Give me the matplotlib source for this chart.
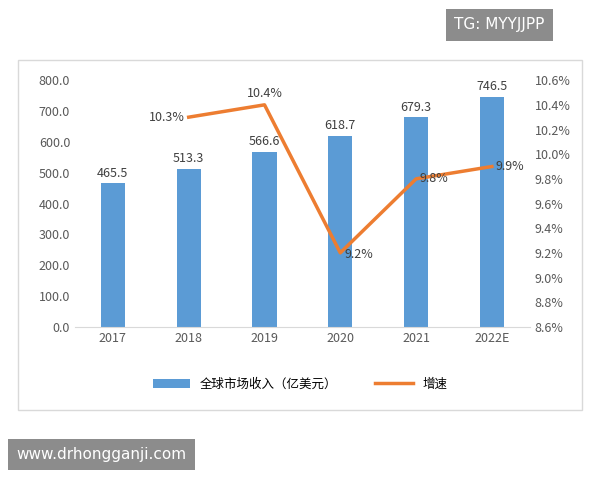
import matplotlib.pyplot as plt
from matplotlib.patches import Rectangle

plt.rcParams['font.family'] = ['Noto Sans CJK SC', 'DejaVu Sans']

years = ["2017", "2018", "2019", "2020", "2021", "2022E"]
revenue = [465.5, 513.3, 566.6, 618.7, 679.3, 746.5]
growth_years = ["2018", "2019", "2020", "2021", "2022E"]
growth = [10.3, 10.4, 9.2, 9.8, 9.9]

blue = "#5B9BD5"
orange = "#ED7D31"

fig = plt.figure(figsize=(6, 4.8), dpi=100)
fig.patches.append(Rectangle((0.03, 0.145), 0.94, 0.73, transform=fig.transFigure,
                             fill=False, edgecolor="#d9d9d9", linewidth=1))
ax = fig.add_axes([0.125, 0.319, 0.758, 0.514])
x = list(range(len(years)))
ax.bar(x, revenue, width=0.32, color=blue, label="全球市场收入（亿美元）")
for xi, v in zip(x, revenue):
    ax.text(xi, v + 12, f"{v:.1f}", ha="center", va="bottom", fontsize=9, color="#404040")
ax.set_ylim(0, 800)
ax.set_yticks(range(0, 801, 100))
ax.set_yticklabels([f"{v:.1f}" for v in range(0, 801, 100)], fontsize=9, color="#595959")
ax.set_xticks(x)
ax.set_xticklabels(years, fontsize=9, color="#595959")
ax.set_xlim(-0.5, len(years) - 0.5)
for s in ["top", "right", "left"]:
    ax.spines[s].set_visible(False)
ax.spines["bottom"].set_color("#d9d9d9")
ax.tick_params(length=0)

ax2 = ax.twinx()
gx = [years.index(y) for y in growth_years]
ax2.plot(gx, growth, color=orange, linewidth=2.5, label="增速")
# label placement per point: (dx, dy, ha, va)
placements = [(-0.05, 0.0, "right", "center"), (0.0, 0.04, "center", "bottom"),
              (0.05, -0.01, "left", "center"), (0.05, 0.0, "left", "center"),
              (0.05, 0.0, "left", "center")]
for xi, v, (dx, dy, ha, va) in zip(gx, growth, placements):
    ax2.text(xi + dx, v + dy, f"{v:.1f}%", ha=ha, va=va, fontsize=9, color="#404040")
ax2.set_ylim(8.6, 10.6)
ticks = [8.6 + 0.2 * i for i in range(11)]
ax2.set_yticks(ticks)
ax2.set_yticklabels([f"{t:.1f}%" for t in ticks], fontsize=9, color="#595959")
for s in ["top", "right", "left", "bottom"]:
    ax2.spines[s].set_visible(False)
ax2.tick_params(length=0)

h1, l1 = ax.get_legend_handles_labels()
h2, l2 = ax2.get_legend_handles_labels()
fig.legend(h1 + h2, l1 + l2, loc="center", bbox_to_anchor=(0.5, 0.2), ncol=2,
           frameon=False, fontsize=9, handlelength=3, columnspacing=3)

fig.text(0.757, 0.948, "TG: MYYJJPP", fontsize=11, color="white", va="center",
         family="DejaVu Sans",
         bbox=dict(boxstyle="square,pad=0.55", facecolor="#8c8c8c", edgecolor="none"))
fig.text(0.027, 0.053, "www.drhongganji.com", fontsize=11, color="white", va="center",
         family="DejaVu Sans",
         bbox=dict(boxstyle="square,pad=0.55", facecolor="#8c8c8c", edgecolor="none"))

fig.savefig("out.png", dpi=100)
